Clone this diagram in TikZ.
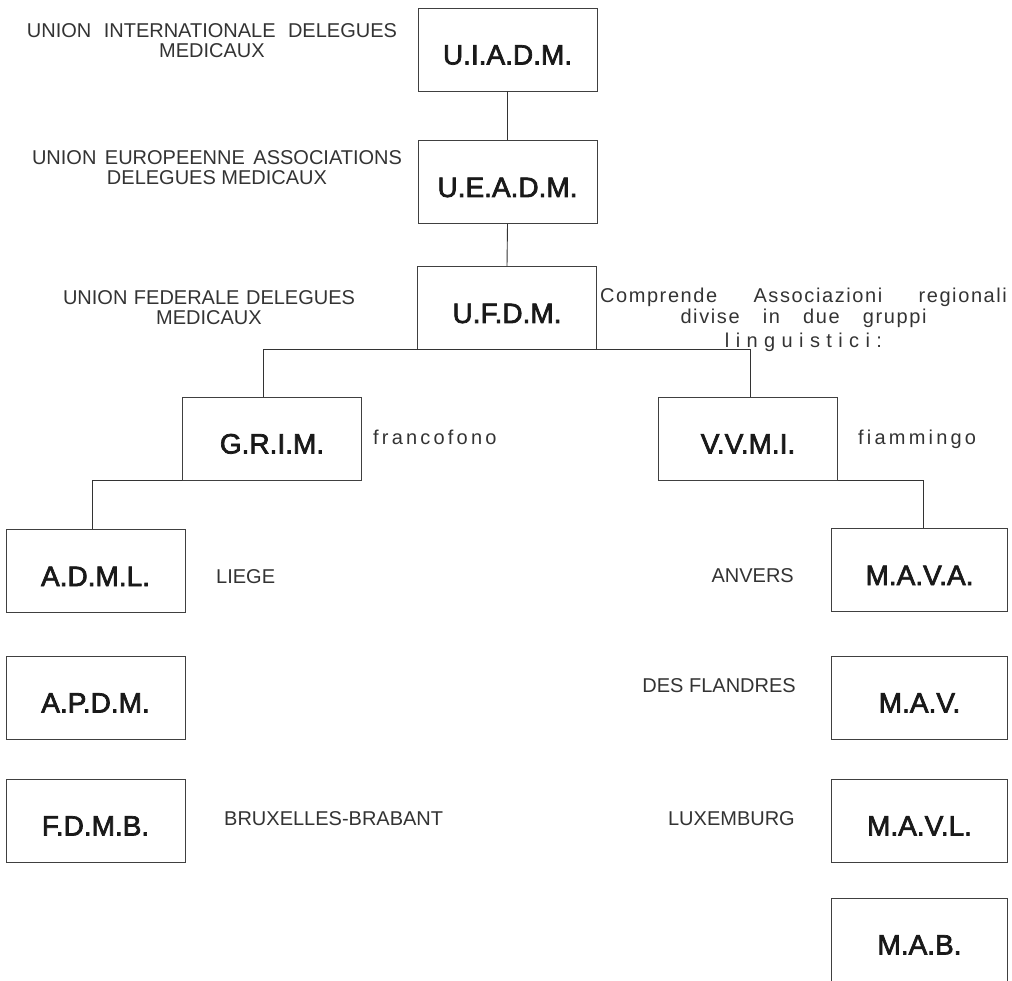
\documentclass[tikz,border=0pt]{standalone}
\usepackage{fontspec}
\setmainfont{Liberation Sans}
\newfontfamily\boxfont{Liberation Sans}[FakeBold=2.5]
\newfontfamily\lsA{Liberation Sans}[LetterSpace=16]
\newfontfamily\lsB{Liberation Sans}[LetterSpace=8]
\newfontfamily\lsC{Liberation Sans}[LetterSpace=32]
\definecolor{boxgray}{gray}{0.25}
\definecolor{linegray}{gray}{0.2}
\definecolor{textdark}{gray}{0.1}
\definecolor{textgray}{gray}{0.2}
\tikzset{
  orgbox/.style={draw=boxgray, line width=0.9pt, minimum width=179pt, minimum height=83pt,
    inner sep=0pt, font=\boxfont\fontsize{28}{30}\selectfont, text=textdark,
    text height=30pt, text depth=0pt},
  lbl/.style={font=\fontsize{20}{20}\selectfont, text=textgray, inner sep=0pt},
  conn/.style={draw=linegray, line width=0.9pt}
}
\begin{document}
\begin{tikzpicture}[x=1pt,y=-1pt]
\useasboundingbox (0,0) rectangle (1012,981);
% boxes
\node[orgbox] (UIADM) at (507.5,49.5) {U.I.A.D.M.};
\node[orgbox] (UEADM) at (507.5,182) {U.E.A.D.M.};
\node[orgbox] (UFDM)  at (507,308) {U.F.D.M.};
\node[orgbox] (GRIM)  at (272,438.5) {G.R.I.M.};
\node[orgbox] (VVMI)  at (748,438.5) {V.V.M.I.};
\node[orgbox] (ADML)  at (95.5,571) {A.D.M.L.};
\node[orgbox] (APDM)  at (95.5,697.5) {A.P.D.M.};
\node[orgbox] (FDMB)  at (95.5,820.5) {F.D.M.B.};
\node[orgbox, minimum width=176pt] (MAVA)  at (919.5,570) {M.A.V.A.};
\node[orgbox, minimum width=176pt] (MAV)   at (919.5,697.5) {M.A.V.};
\node[orgbox, minimum width=176pt] (MAVL)  at (919.5,820.5) {M.A.V.L.};
\node[orgbox, minimum width=176pt] (MAB)   at (919.5,939.5) {M.A.B.};
% connectors
\draw[conn] (UIADM.south) -- (UEADM.north);
\draw[conn] (UEADM.south) -- (UFDM.north);
\draw[conn] ([xshift=-9pt]GRIM.north) |- ([xshift=2pt]VVMI.north |- UFDM.south) -- ([xshift=2pt]VVMI.north);
\draw[conn] (GRIM.south west) -| ([xshift=-3.5pt]ADML.north);
\draw[conn] (VVMI.south east) -| ([xshift=3.5pt]MAVA.north);
% side labels
\node[lbl, anchor=base] (L1) at (212,38) {\begin{tabular}[t]{@{}c@{}}\makebox[370pt][s]{UNION INTERNATIONALE DELEGUES}\\MEDICAUX\end{tabular}};
\node[lbl, anchor=base] (L2) at (217,165) {\begin{tabular}[t]{@{}c@{}}\makebox[370pt][s]{UNION EUROPEENNE ASSOCIATIONS}\\DELEGUES MEDICAUX\end{tabular}};
\node[lbl, anchor=base] (L3) at (209,305) {\begin{tabular}[t]{@{}c@{}}\makebox[292pt][s]{UNION FEDERALE DELEGUES}\\MEDICAUX\end{tabular}};
\node[lbl, anchor=base] (NOTE) at (803.5,303) {\begin{tabular}[t]{@{}c@{}}\lsB\makebox[407pt][s]{Comprende Associazioni regionali}\\\lsB\makebox[246pt][s]{divise in due gruppi}\\[4pt]\lsC linguistici:\end{tabular}};
\node[lbl, anchor=base west] (FR) at (373,444) {\lsA francofono};
\node[lbl, anchor=base west] (FL) at (858,444) {\lsA fiammingo};
\node[lbl, anchor=base west] (LIE) at (216,583) {LIEGE};
\node[lbl, anchor=base west] (BXL) at (224,825) {BRUXELLES-BRABANT};
\node[lbl, anchor=base east] (ANV) at (794,582) {ANVERS};
\node[lbl, anchor=base east] (DFL) at (796,692) {DES FLANDRES};
\node[lbl, anchor=base east] (LUX) at (795,825) {LUXEMBURG};
\end{tikzpicture}
\end{document}
